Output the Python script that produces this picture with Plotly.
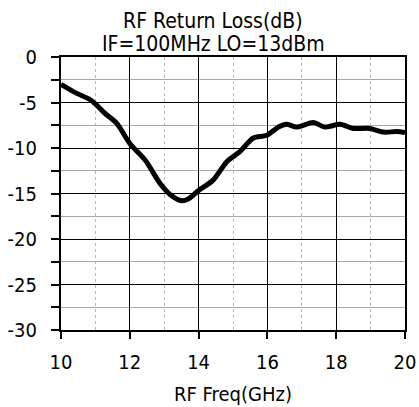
import plotly.graph_objects as go

# RF return loss vs frequency
freq_ghz = [10.0, 10.46, 10.84, 11.04, 11.28, 11.62, 12.0, 12.44, 12.88, 13.17,
            13.51, 13.70, 13.99, 14.43, 14.82, 15.2, 15.59, 15.98, 16.32, 16.56,
            16.85, 17.34, 17.67, 18.11, 18.5, 18.98, 19.37, 19.76, 20.0]
return_loss_db = [-3.0, -4.0, -4.67, -5.3, -6.2, -7.3, -9.5, -11.3, -13.9, -15.1,
                  -15.8, -15.6, -14.7, -13.5, -11.5, -10.4, -8.9, -8.6, -7.7, -7.4,
                  -7.7, -7.2, -7.7, -7.4, -7.85, -7.85, -8.25, -8.2, -8.3]

x_ticks = [10, 12, 14, 16, 18, 20]
y_ticks = [0, -5, -10, -15, -20, -25, -30]
title_lines = ["RF Return Loss(dB)", "IF=100MHz LO=13dBm"]

FONT = "DejaVu Sans Condensed, DejaVu Sans"
SIZE = 20

fig = go.Figure()
fig.add_trace(go.Scatter(
    x=freq_ghz, y=return_loss_db, mode="lines",
    line=dict(color="black", width=5, shape="spline", smoothing=0.8),
    showlegend=False, hoverinfo="skip",
))

# two-line title above the plot
for text, ypos in zip(title_lines, [1.132, 1.047]):
    fig.add_annotation(
        text=text, xref="paper", yref="paper", x=0.442, y=ypos,
        xanchor="center", yanchor="middle", showarrow=False,
        font=dict(family=FONT, size=21, color="black"),
    )

fig.update_layout(
    width=419, height=407,
    margin=dict(l=61, r=14, t=57, b=77, autoexpand=False),
    paper_bgcolor="white", plot_bgcolor="white",
    font=dict(family=FONT, size=SIZE, color="black"),
    xaxis=dict(
        range=[10, 20], tickvals=x_ticks, ticktext=[str(v) for v in x_ticks],
        showgrid=True, gridcolor="black", gridwidth=1,
        showline=True, linecolor="black", linewidth=2, mirror=True,
        ticks="outside", ticklen=7, tickwidth=1.5, tickcolor="black",
        ticklabelstandoff=6, automargin=False,
        zeroline=False,
        minor=dict(dtick=1, tick0=10, showgrid=True, gridcolor="#b8b8b8",
                   griddash="dot", gridwidth=1, ticks=""),
        title=dict(text="RF Freq(GHz)", standoff=14, font=dict(family=FONT, size=SIZE)),
        tickfont=dict(family=FONT, size=SIZE),
    ),
    yaxis=dict(
        range=[-30, 0], tickvals=y_ticks, ticktext=[str(v) for v in y_ticks],
        showgrid=True, gridcolor="black", gridwidth=1,
        showline=True, linecolor="black", linewidth=2, mirror=True,
        ticks="outside", ticklen=8, tickwidth=1.5, tickcolor="black",
        ticklabelstandoff=10, automargin=False,
        zeroline=False,
        minor=dict(dtick=2.5, tick0=0, showgrid=True, gridcolor="#a8a8a8",
                   gridwidth=1, ticks="outside", ticklen=8, tickwidth=1.5,
                   tickcolor="black"),
        tickfont=dict(family=FONT, size=SIZE),
    ),
)

fig.write_html("out.html")
